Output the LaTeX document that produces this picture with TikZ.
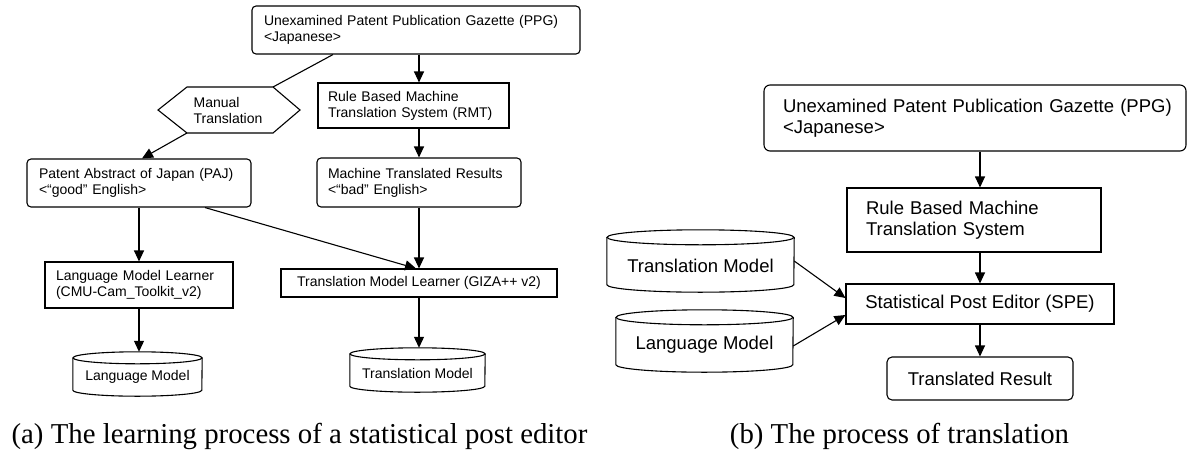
\documentclass[tikz,border=0pt]{standalone}
\usepackage{fontspec}
\setmainfont{Liberation Sans}
\newfontfamily\capfont{Liberation Serif}
\usetikzlibrary{arrows.meta}
\newcommand\cylshape[3]{%
  \draw[ln] ([yshift=-#3]#1.north west) -- ([yshift=#3]#1.south west)
    arc[start angle=180,end angle=360,x radius=#2,y radius=#3] -- ([yshift=-#3]#1.north east);
  \draw[ln] ([yshift=-#3]#1.north) ellipse[x radius=#2,y radius=#3];
}
\begin{document}
\begin{tikzpicture}[x=1pt,y=-1pt,
  ln/.style={line width=1.1pt, draw=black},
  arr/.style={ln, -{Triangle[length=11pt,width=10pt]}},
  lf/.style={font=\fontsize{14}{16}\selectfont},
  rf/.style={font=\fontsize{18.5}{20.5}\selectfont},
  bx/.style={ln, align=left, inner ysep=0pt},
  lbox/.style={bx, lf},
  rbox/.style={bx, rf},
  cylbox/.style={draw=none, inner sep=0pt},
  captext/.style={font=\capfont\fontsize{28.8}{34}\selectfont, anchor=base, inner sep=0pt},
]
\useasboundingbox (0,0) rectangle (1190,455);

% ---------- (a) ----------
\node[lbox, rounded corners=4pt, text width=304pt, inner xsep=12pt, minimum height=48pt] (ppga) at (416,30)
  {Unexamined Patent Publication Gazette (PPG)\\<Japanese>};
\node[lbox, text width=171pt, inner xsep=10pt, minimum height=45pt] (rmta) at (413.5,105.5)
  {Rule Based Machine\\Translation System (RMT)};
\node[lf, align=left, inner sep=0pt] (hex) at (228,110) {Manual\\Translation};
\coordinate (hxL) at (158,110);
\coordinate (hxTL) at (187,87);
\coordinate (hxTR) at (273,87);
\coordinate (hxR) at (300,110);
\coordinate (hxBR) at (273,133);
\coordinate (hxBL) at (187,133);
\draw[ln, line join=miter] (hxL) -- (hxTL) -- (hxTR) -- (hxR) -- (hxBR) -- (hxBL) -- cycle;
\node[lbox, rounded corners=4pt, text width=200pt, inner xsep=12pt, minimum height=48pt] (paj) at (139,183)
  {Patent Abstract of Japan (PAJ)\\<“good” English>};
\node[lbox, rounded corners=4pt, text width=182pt, inner xsep=11pt, minimum height=49pt] (mtr) at (419,182.5)
  {Machine Translated Results\\<“bad” English>};
\node[lbox, text width=166pt, inner xsep=11pt, minimum height=46pt] (lml) at (139,285)
  {Language Model Learner\\(CMU-Cam\_Toolkit\_v2)};
\node[lbox, align=center, inner xsep=0pt, minimum width=276pt, minimum height=28pt] (tml) at (419,283)
  {Translation Model Learner (GIZA++ v2)};
\node[cylbox, minimum width=129pt, minimum height=44pt] (lma) at (137.5,374) {};
\cylshape{lma}{64.5pt}{6pt}
\node[lf, inner sep=0pt] (lmat) at ([yshift=-3pt]lma.center) {Language Model};
\node[cylbox, minimum width=135pt, minimum height=44pt] (tma) at (417.5,370) {};
\cylshape{tma}{67.5pt}{6pt}
\node[lf, inner sep=0pt] (tmat) at ([yshift=-3pt]tma.center) {Translation Model};

\draw[ln] ([xshift=-83pt]ppga.south) -- (hxTR);
\draw[arr] (ppga.south -| mtr.north) -- (rmta.north -| mtr.north);
\draw[arr] (hxBL) -- ([xshift=3pt]paj.north);
\draw[arr] (rmta.south -| mtr.north) -- (mtr.north);
\draw[arr] (paj.south) -- (lml.north);
\draw[arr] ([xshift=66pt]paj.south) -- ([xshift=-3pt]tml.north);
\draw[arr] (mtr.south) -- (tml.north);
\draw[arr] (lml.south) -- (lml.south |- lma.north);
\draw[arr] (tml.south) -- (tml.south |- tma.north);

\node[captext] (capa) at (299.5,443) {(a) The learning process of a statistical post editor};

% ---------- (b) ----------
\node[rbox, rounded corners=6pt, text width=398pt, inner xsep=12pt, minimum height=66pt] (ppgb) at (975,118)
  {\hspace*{7pt}Unexamined Patent Publication Gazette (PPG)\\\hspace*{7pt}<Japanese>};
\node[rbox, text width=216pt, inner xsep=19pt, minimum height=64pt] (rmtb) at (974,220)
  {Rule Based Machine\\Translation System};
\node[rbox, align=center, inner xsep=0pt, minimum width=268pt, minimum height=40pt] (spe) at (980,304)
  {Statistical Post Editor (SPE)};
\node[rbox, rounded corners=5pt, align=center, inner xsep=0pt, minimum width=186pt, minimum height=43pt] (tr) at (980,378.5)
  {Translated Result};
\node[cylbox, minimum width=187pt, minimum height=62pt] (tmb) at (700.5,261) {};
\cylshape{tmb}{93.5pt}{7.5pt}
\node[rf, inner sep=0pt] (tmbt) at ([yshift=-5pt]tmb.center) {Translation Model};
\node[cylbox, minimum width=177pt, minimum height=62pt] (lmb) at (704.5,341) {};
\cylshape{lmb}{88.5pt}{7.5pt}
\node[rf, inner sep=0pt] (lmbt) at ([yshift=-4pt]lmb.center) {Language Model};

\draw[arr] (ppgb.south -| spe.north) -- (rmtb.north -| spe.north);
\draw[arr] (rmtb.south -| spe.north) -- (spe.north);
\draw[arr] (spe.south) -- (tr.north);
\draw[arr] (tmb.east) -- ([yshift=6pt]spe.west);
\draw[arr] ([yshift=-5pt]lmb.east) -- ([yshift=-11pt]spe.west);

\node[captext] (capb) at (899.5,443) {(b) The process of translation};
\end{tikzpicture}
\end{document}
